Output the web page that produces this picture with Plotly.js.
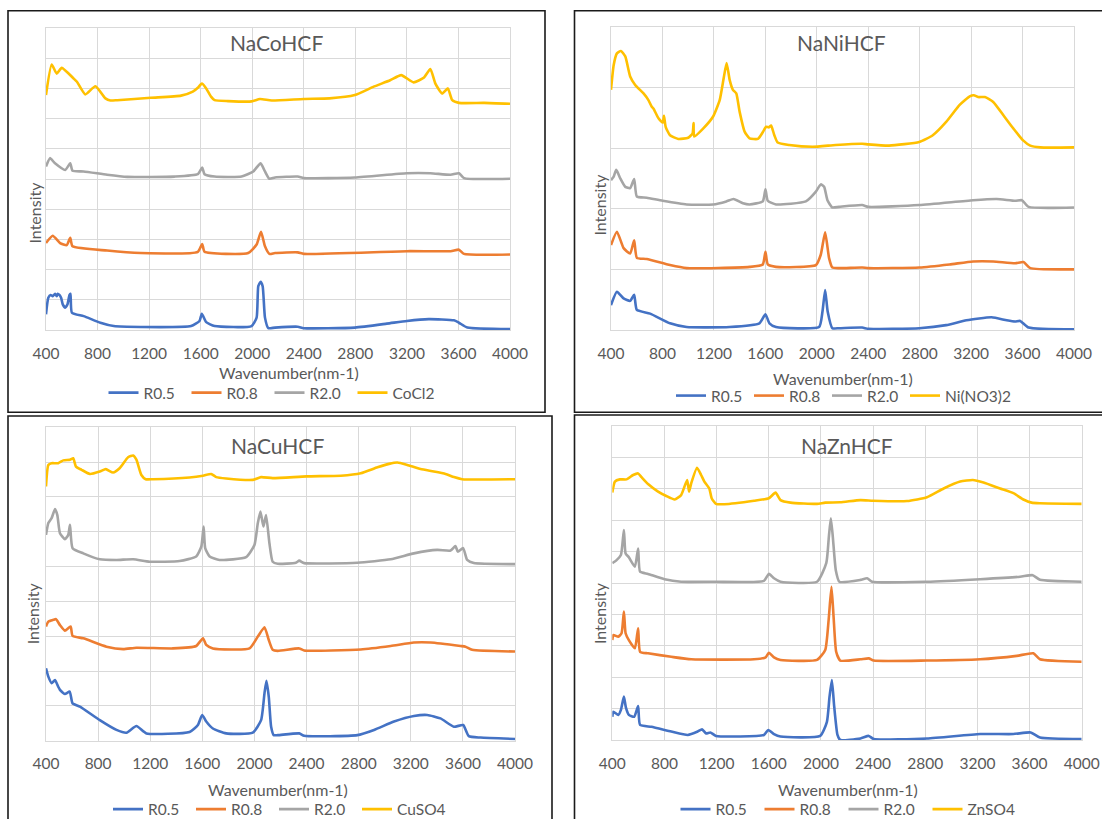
<!DOCTYPE html>
<html>
<head>
<meta charset="utf-8">
<script src="https://cdn.plot.ly/plotly-3.0.1.min.js"></script>
<style>html,body{margin:0;padding:0;background:#fff;}#chart{width:1102px;height:819px;}</style>
</head>
<body>
<div id="chart"></div>
<script>
// ---------- data (wavenumber, offset intensity in grid units) ----------
const xTicks = [400, 800, 1200, 1600, 2000, 2400, 2800, 3200, 3600, 4000];
const seriesNames = ['R0.5', 'R0.8', 'R2.0'];
const panelTitles = ['NaCoHCF', 'NaNiHCF', 'NaCuHCF', 'NaZnHCF'];
const saltNames = ['CoCl2', 'Ni(NO3)2', 'CuSO4', 'ZnSO4'];

// NaCoHCF
const coX_R05 = [400,418,436,452,470,483,491,504,517,530,549,567,582,590,601,692,822,926,1135,1526,1591,1609,1643,1708,1995,2034,2047,2065,2081,2099,2125,2177,2353,2400,2796,3044,3200,3369,3565,3604,3669,4000];
const coY_R05 = [0.52,1.07,1.16,1.12,1.20,1.12,1.20,1.16,1.07,0.85,0.74,0.85,1.16,1.20,0.57,0.46,0.24,0.13,0.10,0.13,0.30,0.54,0.26,0.13,0.13,0.41,1.45,1.60,1.45,0.41,0.06,0.08,0.11,0.06,0.08,0.21,0.30,0.36,0.32,0.24,0.08,0.03];
const coX_R08 = [400,452,509,561,588,606,874,1135,1578,1612,1630,1969,2034,2068,2099,2133,2177,2353,2400,3200,3539,3604,3643,4000];
const coY_R08 = [2.88,3.12,2.88,2.81,3.05,2.77,2.63,2.55,2.59,2.85,2.59,2.55,2.83,3.25,2.77,2.52,2.55,2.57,2.52,2.61,2.61,2.66,2.52,2.50];
const coX_R20 = [400,431,470,549,588,606,692,874,1031,1395,1578,1612,1630,1708,1917,2008,2065,2099,2133,2177,2353,2400,2796,3200,3382,3539,3604,3643,4000];
const coY_R20 = [5.41,5.69,5.52,5.30,5.52,5.27,5.25,5.14,5.07,5.08,5.16,5.38,5.16,5.08,5.08,5.25,5.52,5.25,5.01,5.05,5.08,5.03,5.05,5.19,5.19,5.14,5.19,5.03,5.01];
const coX_salt = [400,444,483,522,614,640,705,783,861,900,952,1213,1448,1539,1578,1609,1643,1682,1708,1812,1995,2060,2151,2400,2600,2796,2939,3070,3156,3252,3330,3382,3421,3474,3518,3552,3604,3799,4000];
const coY_salt = [7.78,8.79,8.49,8.68,8.33,8.22,7.80,8.07,7.67,7.60,7.61,7.69,7.76,7.89,8.02,8.16,8.00,7.72,7.61,7.58,7.57,7.65,7.60,7.65,7.67,7.78,8.05,8.27,8.44,8.20,8.35,8.64,8.16,7.83,8.00,7.61,7.52,7.52,7.49];

// NaNiHCF
const niX_R05 = [400,446,498,549,580,601,704,859,988,1322,1554,1601,1632,1683,2018,2044,2065,2085,2121,2173,2353,2400,2797,3006,3163,3359,3477,3542,3582,3647,4000];
const niY_R05 = [0.41,0.63,0.52,0.48,0.58,0.33,0.27,0.11,0.05,0.05,0.11,0.26,0.11,0.05,0.05,0.30,0.66,0.30,0.03,0.03,0.04,0.02,0.03,0.08,0.16,0.21,0.16,0.14,0.15,0.04,0.01];
const niX_R08 = [400,446,498,549,580,601,678,859,988,1477,1580,1601,1619,1683,1993,2031,2065,2096,2121,2173,2353,2400,2797,3032,3215,3372,3542,3608,3660,4000];
const niY_R08 = [1.40,1.62,1.35,1.26,1.48,1.19,1.17,1.07,1.02,1.04,1.08,1.29,1.08,1.04,1.07,1.24,1.61,1.18,1.03,1.02,1.03,1.02,1.03,1.08,1.13,1.13,1.10,1.12,1.02,1.00];
const niX_R20 = [400,421,441,472,511,549,580,601,678,802,988,1194,1297,1353,1426,1477,1580,1601,1619,1683,1915,1993,2031,2057,2083,2121,2173,2353,2400,2797,3215,3399,3542,3595,3647,4000];
const niY_R20 = [2.47,2.53,2.64,2.50,2.36,2.34,2.49,2.20,2.18,2.13,2.07,2.07,2.12,2.16,2.09,2.07,2.12,2.32,2.13,2.07,2.12,2.28,2.40,2.36,2.14,2.02,2.03,2.06,2.03,2.06,2.14,2.16,2.13,2.14,2.03,2.02];
const niX_salt = [400,421,446,477,511,549,588,653,691,717,730,769,802,812,825,859,923,1000,1034,1042,1047,1116,1194,1245,1276,1299,1323,1348,1374,1400,1439,1477,1542,1580,1606,1627,1645,1670,1696,1786,1967,2147,2353,2400,2562,2797,2902,3006,3111,3189,3221,3255,3307,3372,3451,3529,3602,3660,3738,4000];
const niY_salt = [3.96,4.37,4.56,4.60,4.51,4.18,4.04,3.90,3.79,3.68,3.65,3.49,3.42,3.53,3.35,3.21,3.15,3.17,3.24,3.41,3.19,3.32,3.52,3.79,4.15,4.40,4.12,3.96,3.90,3.60,3.27,3.16,3.15,3.26,3.35,3.34,3.37,3.21,3.09,3.05,3.02,3.05,3.07,3.06,3.04,3.10,3.21,3.43,3.71,3.85,3.87,3.84,3.84,3.76,3.54,3.32,3.13,3.04,3.01,3.01];

// NaCuHCF
const cuX_R05 = [400,418,443,469,494,507,545,582,604,660,813,941,1018,1094,1171,1502,1566,1599,1630,1681,1783,1987,2051,2077,2092,2110,2128,2148,2179,2344,2382,2790,2918,3071,3224,3326,3428,3531,3602,3645,3735,4000];
const cuY_R05 = [2.08,1.84,1.65,1.74,1.55,1.46,1.34,1.41,1.07,0.98,0.59,0.31,0.23,0.42,0.21,0.25,0.45,0.74,0.55,0.35,0.21,0.23,0.59,1.36,1.72,1.26,0.40,0.16,0.16,0.21,0.14,0.16,0.31,0.55,0.71,0.74,0.64,0.40,0.45,0.13,0.09,0.05];
const cuX_R08 = [400,418,456,477,507,545,589,604,686,864,992,1094,1375,1553,1605,1630,1681,1962,2026,2077,2110,2140,2179,2344,2382,2816,3046,3224,3352,3582,3620,3671,4000];
const cuY_R08 = [3.28,3.42,3.47,3.49,3.32,3.16,3.28,3.01,2.94,2.70,2.63,2.67,2.65,2.72,2.94,2.75,2.65,2.65,2.99,3.26,2.89,2.61,2.58,2.65,2.59,2.62,2.72,2.82,2.82,2.72,2.70,2.61,2.56];
const cuX_R20 = [400,418,443,469,487,507,545,571,584,604,686,813,941,1069,1196,1426,1553,1592,1610,1622,1656,1732,1936,2000,2026,2046,2069,2089,2115,2140,2179,2318,2344,2382,2790,3046,3224,3403,3505,3543,3561,3602,3633,3684,4000];
const cuY_R20 = [5.91,6.25,6.39,6.65,6.48,5.96,5.79,5.91,6.20,5.53,5.38,5.21,5.19,5.21,5.14,5.16,5.29,5.57,6.15,5.53,5.29,5.19,5.27,5.62,6.25,6.58,6.15,6.48,5.67,5.14,5.08,5.11,5.17,5.10,5.11,5.21,5.38,5.48,5.46,5.59,5.43,5.53,5.19,5.10,5.07];
const cuX_salt = [400,418,443,494,533,584,609,630,673,737,813,859,915,967,1030,1069,1094,1132,1165,1222,1502,1605,1668,1707,1783,1987,2051,2140,2400,2663,2816,2944,3033,3097,3173,3275,3377,3467,3531,3594,4000];
const cuY_salt = [7.30,7.92,7.97,7.97,8.05,8.07,8.11,7.87,7.78,7.66,7.73,7.80,7.70,7.83,8.14,8.19,8.07,7.63,7.51,7.51,7.56,7.61,7.66,7.57,7.53,7.49,7.57,7.54,7.59,7.61,7.68,7.85,7.95,7.99,7.92,7.80,7.73,7.66,7.57,7.51,7.51];

// NaZnHCF
const znX_R05 = [400,408,446,466,489,504,527,568,598,613,700,852,979,1055,1088,1119,1152,1195,1563,1596,1640,1690,1995,2046,2066,2084,2102,2127,2148,2303,2367,2405,2813,3221,3476,3609,3680,4000];
const znY_R05 = [0.74,0.90,0.80,0.96,1.38,1.04,0.80,0.74,1.08,0.48,0.42,0.27,0.16,0.27,0.34,0.21,0.24,0.13,0.16,0.32,0.19,0.11,0.13,0.58,1.38,1.91,1.06,0.16,0.00,0.05,0.13,0.03,0.05,0.19,0.19,0.24,0.08,0.03];
const znX_R08 = [400,408,446,471,489,502,527,573,598,613,674,852,1005,1487,1576,1601,1640,1690,1970,2033,2059,2081,2097,2117,2148,2303,2367,2405,2813,3221,3502,3629,3680,4000];
const znY_R08 = [3.18,3.34,3.29,3.40,4.09,3.40,3.18,2.92,3.56,2.81,2.76,2.65,2.57,2.57,2.63,2.78,2.63,2.55,2.55,2.87,3.82,4.88,3.93,2.81,2.53,2.57,2.60,2.53,2.53,2.57,2.68,2.76,2.57,2.49];
const znX_R20 = [400,433,466,489,502,527,573,598,613,674,801,928,1182,1563,1601,1640,1690,1970,2041,2061,2076,2091,2114,2142,2303,2354,2392,2813,3221,3527,3624,3680,4000];
const znY_R20 = [5.63,5.73,5.89,6.69,5.94,5.82,5.52,6.10,5.36,5.29,5.12,5.04,5.04,5.07,5.29,5.15,5.04,5.04,5.63,6.48,7.06,6.48,5.41,5.04,5.10,5.15,5.04,5.04,5.12,5.20,5.25,5.10,5.04];
const znX_salt = [400,420,458,509,560,598,624,674,751,814,878,928,974,989,1005,1050,1081,1106,1144,1162,1195,1259,1487,1601,1652,1690,1767,1970,2033,2148,2303,2400,2660,2813,2941,3068,3165,3247,3374,3476,3553,3616,3680,4000];
const znY_salt = [7.88,8.23,8.30,8.30,8.44,8.49,8.37,8.15,7.91,7.77,7.66,7.80,8.28,7.91,8.17,8.67,8.44,8.23,8.01,7.70,7.52,7.51,7.62,7.70,7.88,7.64,7.56,7.52,7.56,7.57,7.64,7.62,7.61,7.73,8.01,8.23,8.28,8.20,8.01,7.86,7.66,7.56,7.54,7.52];

// y grid intervals per panel
const yTop = [10, 5, 9, 10];

// ---------- styling / layout ----------
const W = 1102, H = 819;
const colors = ['#4472C4', '#ED7D31', '#A5A5A5', '#FFC000'];
const FONT = 'Lato, "Open Sans", sans-serif';
const TXT = '#595959';
const px = v => v / W;
const py = v => 1 - v / H;

// plot-area pixel boxes [left, right, top, bottom]
const boxes = [
  [46, 510, 28, 330],
  [611, 1074, 26.7, 330],
  [46, 515, 427.3, 740.7],
  [612.3, 1081.7, 426, 740]
];
const titlePos = [[276, 42], [841.5, 42], [277.3, 446], [846.8, 446]];
const xTitlePos = [[288.6, 372.7], [842.8, 378.3], [278.4, 789], [847.5, 789]];
const yTitlePos = [[34, 212.5], [598.6, 205], [32, 613.3], [598.8, 613.3]];
const legendPos = [[103.5, 393], [671, 396], [108, 809.5], [675.5, 809.5]];
const legendEntry = [38, 33, 38, 39];

const panelData = [
  [[coX_R05, coY_R05], [coX_R08, coY_R08], [coX_R20, coY_R20], [coX_salt, coY_salt]],
  [[niX_R05, niY_R05], [niX_R08, niY_R08], [niX_R20, niY_R20], [niX_salt, niY_salt]],
  [[cuX_R05, cuY_R05], [cuX_R08, cuY_R08], [cuX_R20, cuY_R20], [cuX_salt, cuY_salt]],
  [[znX_R05, znY_R05], [znX_R08, znY_R08], [znX_R20, znY_R20], [znX_salt, znY_salt]]
];

const traces = [];
const layout = {
  width: W, height: H,
  margin: {l: 0, r: 0, t: 0, b: 0, autoexpand: false},
  paper_bgcolor: '#ffffff', plot_bgcolor: '#ffffff',
  font: {family: FONT, color: TXT},
  showlegend: true,
  annotations: [],
  shapes: []
};

for (let p = 0; p < 4; p++) {
  const sfx = p === 0 ? '' : String(p + 1);
  const legName = p === 0 ? 'legend' : 'legend' + (p + 1);
  const names = seriesNames.concat([saltNames[p]]);
  for (let s = 0; s < 4; s++) {
    const tr = {
      type: 'scatter', mode: 'lines',
      x: panelData[p][s][0], y: panelData[p][s][1],
      name: names[s],
      xaxis: 'x' + sfx, yaxis: 'y' + sfx,
      legend: legName,
      line: {color: colors[s], width: 2.6, shape: 'spline', smoothing: 0.5},
      hoverinfo: 'skip'
    };
    if (s < 3) tr.legendwidth = legendEntry[p];
    traces.push(tr);
  }
  const b = boxes[p];
  layout['xaxis' + sfx] = {
    domain: [px(b[0]), px(b[1])],
    anchor: 'y' + sfx,
    range: [400, 4000],
    tickmode: 'array', tickvals: xTicks, ticktext: xTicks.map(String),
    showgrid: true, gridcolor: '#D9D9D9', gridwidth: 1,
    showline: true, linecolor: '#D9D9D9', linewidth: 1, mirror: true,
    zeroline: false, ticks: '',
    ticklabelstandoff: 9,
    tickfont: {family: FONT, size: 15.5, color: TXT},
    fixedrange: true
  };
  layout['yaxis' + sfx] = {
    domain: [py(b[3]), py(b[2])],
    anchor: 'x' + sfx,
    range: [0, yTop[p]],
    dtick: 1, tick0: 0,
    showticklabels: false, ticks: '',
    showgrid: true, gridcolor: '#D9D9D9', gridwidth: 1,
    showline: true, linecolor: '#D9D9D9', mirror: true,
    zeroline: false, fixedrange: true
  };
  layout[legName] = {
    orientation: 'h',
    x: px(legendPos[p][0]), y: py(legendPos[p][1]),
    xanchor: 'left', yanchor: 'middle',
    xref: 'paper', yref: 'paper',
    font: {family: FONT, size: 15.5, color: TXT},
    bgcolor: 'rgba(0,0,0,0)',
    itemwidth: 30,
    traceorder: 'normal'
  };
  layout.annotations.push({
    text: panelTitles[p], xref: 'paper', yref: 'paper',
    x: px(titlePos[p][0]), y: py(titlePos[p][1]),
    xanchor: 'center', yanchor: 'middle', showarrow: false,
    font: {family: FONT, size: 21, color: TXT}
  });
  layout.annotations.push({
    text: 'Wavenumber(nm-1)', xref: 'paper', yref: 'paper',
    x: px(xTitlePos[p][0]), y: py(xTitlePos[p][1]),
    xanchor: 'center', yanchor: 'middle', showarrow: false,
    font: {family: FONT, size: 16, color: TXT}
  });
  layout.annotations.push({
    text: 'Intensity', xref: 'paper', yref: 'paper',
    x: px(yTitlePos[p][0]), y: py(yTitlePos[p][1]),
    xanchor: 'center', yanchor: 'middle', showarrow: false, textangle: -90,
    font: {family: FONT, size: 16, color: TXT}
  });
}

// panel frames
const frames = [
  [8, 545, 10.7, 412.3],
  [574.5, 1110, 10.7, 412.3],
  [8, 552, 416, 830],
  [574.5, 1110, 415, 830]
];
frames.forEach(f => {
  layout.shapes.push({
    type: 'rect', xref: 'paper', yref: 'paper',
    x0: px(f[0]), x1: px(f[1]), y0: py(f[3]), y1: py(f[2]),
    line: {color: '#1a1a1a', width: 1.6}, fillcolor: 'rgba(0,0,0,0)', layer: 'above'
  });
});

Plotly.newPlot('chart', traces, layout, {displayModeBar: false, staticPlot: true});
</script>
</body>
</html>
